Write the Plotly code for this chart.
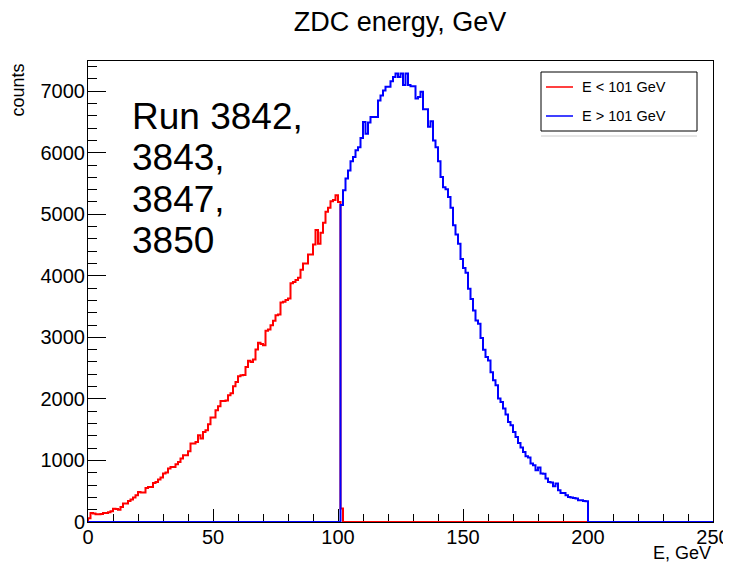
import numpy as np
import plotly.graph_objects as go

# ---- data (counts per 1 GeV bin) ----
red_start_bin = 0
red_counts = [
    60, 146, 140, 125, 125, 130, 146, 146, 160, 174,
    217, 210, 200, 244, 299, 299, 341, 364, 397, 434,
    488, 480, 480, 553, 569, 569, 634, 650, 689, 722,
    787, 803, 868, 894, 894, 938, 976, 1031, 1085, 1085,
    1150, 1274, 1274, 1301, 1410, 1356, 1463, 1491, 1588, 1697,
    1697, 1816, 1881, 1967, 1967, 1975, 2060, 2090, 2206, 2276,
    2369, 2385, 2390, 2520, 2618, 2600, 2640, 2803, 2911, 2890,
    2870, 3106, 3128, 3198, 3268, 3361, 3372, 3567, 3580, 3605,
    3632, 3880, 3900, 3930, 3967, 4100, 4201, 4201, 4348, 4348,
    4510, 4743, 4520, 4700, 4860, 5041, 5106, 5210, 5230, 5310,
    5200, 220,
]
blue_start_bin = 101
blue_counts = [
    5150, 5390, 5580, 5710, 5860, 5930, 6040, 6090, 6240,
    6500, 6310, 6490, 6580, 6580, 6580, 6850, 6930, 7010, 7070,
    7070, 7160, 7230, 7285, 7230, 7285, 7100, 7285, 7100, 7080,
    7080, 6880, 6905, 6990, 6705, 6705, 6420, 6510, 6200, 6090,
    5860, 5605, 5440, 5405, 5280, 5105, 4820, 4670, 4520, 4275,
    4125, 4050, 3790, 3625, 3435, 3275, 3220, 2990, 2800, 2680,
    2625, 2435, 2304, 2222, 2006, 1951, 1843, 1746, 1626, 1572,
    1463, 1382, 1285, 1210, 1138, 1068, 1047, 950, 922, 841,
    885, 790, 785, 705, 650, 640, 580, 624, 515, 472,
    472, 434, 407, 400, 390, 380, 353, 353, 340, 337,
]
n_bins = 250
x_min, x_max = 0, 250
y_max = 7490
title_text = "ZDC energy, GeV"
x_title = "E, GeV"
y_title = "counts"
run_lines = ["Run 3842,", "3843,", "3847,", "3850"]
legend_labels = ["E < 101 GeV", "E > 101 GeV"]
colors = ["#ff0000", "#0000ff"]

edges = np.linspace(x_min, x_max, n_bins + 1)


def full_hist(start, vals):
    h = np.zeros(n_bins)
    h[start:start + len(vals)] = vals
    return h


def step_xy(h):
    xs = np.concatenate([[edges[0]], edges[:-1], [edges[-1], edges[-1]]])
    ys = np.concatenate([[0], h, [h[-1], 0]])
    return xs, ys


red_h = full_hist(red_start_bin, red_counts)
blue_h = full_hist(blue_start_bin, blue_counts)

FONT = "Liberation Sans, Arial, Helvetica, sans-serif"
# the page body has an 8 px margin: figure pixel = screen pixel - 8
OFF = 8
W, H = 731 - OFF, 565 - OFF
SL, ST, SR, SB = 88, 61, 713, 522  # plot frame in screen pixels
L, T = SL - OFF, ST - OFF
R, B = W - (SR - OFF), H - (SB - OFF)
PW, PH = SR - SL, SB - ST


def px(xpix):
    return (xpix - SL) / PW


def py(ypix):
    return (SB - ypix) / PH


fig = go.Figure()
for h, c, name in [(red_h, colors[0], legend_labels[0]), (blue_h, colors[1], legend_labels[1])]:
    xs, ys = step_xy(h)
    fig.add_trace(go.Scatter(x=xs, y=ys, mode="lines", line=dict(color=c, width=2, shape="hv"),
                             name=name, showlegend=False, hoverinfo="skip"))

axis_common = dict(showgrid=False, zeroline=False, showline=True, linecolor="black", linewidth=1,
                   mirror=True, ticks="inside", tickcolor="black", tickwidth=1, automargin=False,
                   tickfont=dict(family=FONT, size=20, color="black"), layer="below traces")

fig.update_layout(
    width=W, height=H,
    margin=dict(l=L, r=R, t=T, b=B, pad=0, autoexpand=False),
    paper_bgcolor="white", plot_bgcolor="white",
    showlegend=False,
    title=dict(text=title_text, x=px(400), xref="paper", xanchor="center",
               y=1 - (22 - OFF) / H, yref="container", yanchor="middle",
               font=dict(family=FONT, size=27, color="black")),
    xaxis=dict(range=[x_min, x_max], dtick=50, tick0=0, ticklen=13,
               minor=dict(ticks="inside", dtick=10, ticklen=8, tickcolor="black"),
               ticklabelstandoff=-3, **axis_common),
    yaxis=dict(range=[0, y_max], dtick=1000, tick0=0, ticklen=18,
               minor=dict(ticks="inside", dtick=200, ticklen=9, tickcolor="black"),
               ticklabelstandoff=-2, **axis_common),
)

annotations = []
# axis titles
annotations.append(dict(text=x_title, xref="paper", yref="paper", x=px(713), y=py(553),
                        xanchor="right", yanchor="middle", showarrow=False,
                        font=dict(family=FONT, size=18, color="black")))
annotations.append(dict(text=y_title, xref="paper", yref="paper", x=px(18), y=py(62),
                        xanchor="center", yanchor="top", textangle=-90, showarrow=False,
                        font=dict(family=FONT, size=18, color="black")))
# run text
for i, line in enumerate(run_lines):
    annotations.append(dict(text=line, xref="paper", yref="paper", x=px(130), y=py(116 + 41.5 * i),
                            xanchor="left", yanchor="middle", showarrow=False,
                            font=dict(family=FONT, size=37, color="black")))

# legend (drawn manually)
shapes = []
shapes.append(dict(type="rect", xref="paper", yref="paper", x0=px(541), x1=px(697), y0=py(72), y1=py(131),
                   line=dict(color="black", width=1), fillcolor="white", layer="above"))
shapes.append(dict(type="line", xref="paper", yref="paper", x0=px(541), x1=px(697), y0=py(136), y1=py(136),
                   line=dict(color="#cccccc", width=1)))
for i, (lab, c) in enumerate(zip(legend_labels, colors)):
    yy = 87 + 29 * i
    shapes.append(dict(type="line", xref="paper", yref="paper", x0=px(546), x1=px(573), y0=py(yy), y1=py(yy),
                       line=dict(color=c, width=1.5), layer="above"))
    annotations.append(dict(text=lab, xref="paper", yref="paper", x=px(580), y=py(yy),
                            xanchor="left", yanchor="middle", showarrow=False,
                            font=dict(family=FONT, size=14.5, color="black")))

fig.update_layout(annotations=annotations, shapes=shapes)
fig.write_html("out.html")
